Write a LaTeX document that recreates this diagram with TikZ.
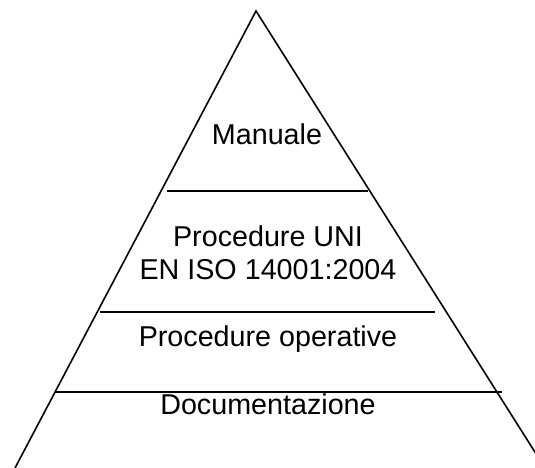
\documentclass[tikz,border=0pt]{standalone}
\usepackage{fontspec}
\setmainfont{Liberation Sans}
\usetikzlibrary{calc}
\tikzset{>=latex}
\tikzset{level/.style={font=\fontsize{28.7}{33}\selectfont,anchor=base,align=center}}

\begin{document}
\begin{tikzpicture}[x=1pt,y=1pt]
        \useasboundingbox (0,0) rectangle (535,468);
        \clip (0,0) rectangle (535,468);
        \coordinate (top) at (256,457);
        \draw[line width=1.6pt] (15,0) -- (top) -- (545,0);
        \draw[line width=1.6pt] (167,277) -- (368,277);
        \draw[line width=1.6pt] (100,156) -- (435,156);
        \draw[line width=1.6pt] (55,76) -- (502,76);
        \node[level] (manuale) at (267,323) {Manuale};
        \node[level] (uni) at (268,221) {Procedure UNI};
        \node[level] (iso) at (268,188) {EN ISO 14001:2004};
        \node[level] (operative) at (268,121) {Procedure operative};
        \node[level] (doc) at (268,53) {Documentazione};
      \end{tikzpicture}
\end{document}
